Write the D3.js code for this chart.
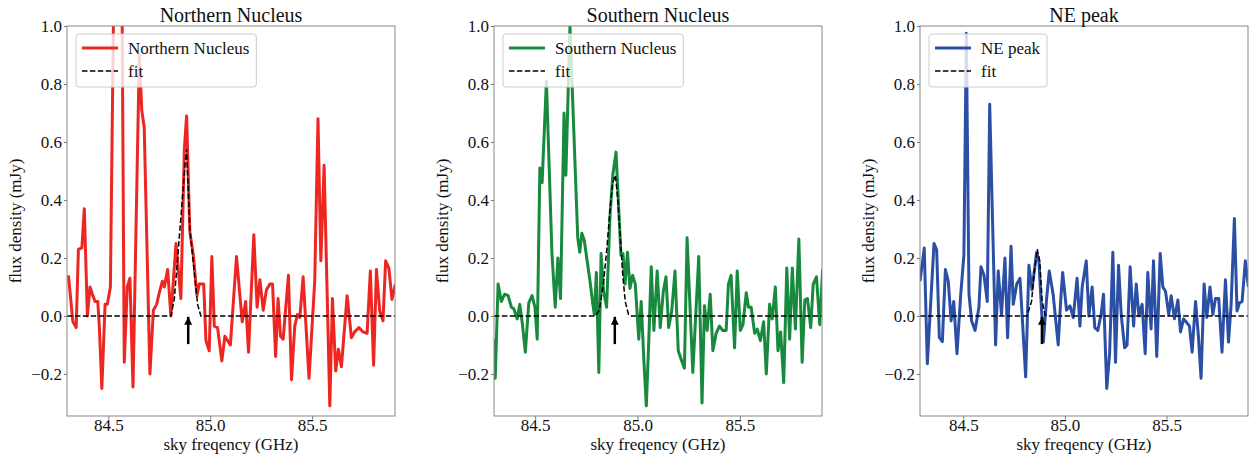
<!DOCTYPE html>
<html>
<head>
<meta charset="utf-8">
<script src="https://cdn.jsdelivr.net/npm/d3@7"></script>
<style>
body { margin: 0; background: #fff; }
svg text { font-family: "Liberation Serif", "DejaVu Serif", serif; fill: #111; }
</style>
</head>
<body>
<div id="chart"></div>
<script>
// spectra (GHz, mJy)
var freqN = [84.304, 84.326, 84.342, 84.353, 84.370, 84.382, 84.397, 84.410, 84.424, 84.435, 84.448, 84.456, 84.468, 84.484, 84.495, 84.510, 84.527, 84.545, 84.565, 84.578, 84.593, 84.606, 84.621, 84.652, 84.664, 84.676, 84.704, 84.721, 84.737, 84.750, 84.765, 84.775, 84.791, 84.807, 84.832, 84.856, 84.873, 84.884, 84.900, 84.917, 84.935, 84.946, 84.968, 84.979, 84.995, 85.008, 85.020, 85.036, 85.057, 85.072, 85.099, 85.129, 85.157, 85.174, 85.188, 85.214, 85.230, 85.244, 85.260, 85.276, 85.293, 85.306, 85.321, 85.333, 85.345, 85.358, 85.384, 85.399, 85.415, 85.428, 85.440, 85.456, 85.485, 85.513, 85.529, 85.543, 85.559, 85.587, 85.600, 85.616, 85.629, 85.644, 85.672, 85.693, 85.709, 85.730, 85.750, 85.770, 85.786, 85.802, 85.816, 85.832, 85.848, 85.861, 85.877, 85.892, 85.909];
var fluxN = [0.14, -0.02, -0.04, 0.23, 0.235, 0.37, 0.00, 0.10, 0.07, 0.05, 0.05, -0.04, -0.25, 0.04, 0.04, 0.10, 1.15, 1.45, 1.35, -0.16, 0.10, 0.13, -0.245, 0.90, 0.71, 0.65, -0.20, 0.02, 0.04, 0.08, 0.12, 0.10, 0.16, 0.00, 0.25, 0.06, 0.575, 0.69, 0.29, 0.21, 0.07, 0.11, 0.11, -0.085, -0.12, 0.205, -0.035, -0.04, -0.155, -0.07, -0.10, 0.205, -0.02, 0.05, -0.125, 0.28, 0.03, 0.125, 0.02, 0.09, 0.11, 0.11, -0.14, 0.06, -0.07, -0.08, 0.14, -0.22, -0.035, 0.005, -0.005, 0.135, -0.215, 0.12, 0.68, 0.19, 0.52, -0.31, 0.06, -0.19, -0.115, -0.175, 0.07, -0.075, -0.055, -0.04, -0.055, -0.06, 0.155, -0.17, 0.16, 0.017, -0.017, 0.19, 0.165, 0.057, 0.11];

var freqS = [84.297, 84.305, 84.319, 84.335, 84.351, 84.368, 84.384, 84.396, 84.412, 84.425, 84.438, 84.452, 84.469, 84.485, 84.499, 84.510, 84.523, 84.534, 84.555, 84.582, 84.598, 84.611, 84.624, 84.641, 84.650, 84.670, 84.708, 84.718, 84.728, 84.740, 84.752, 84.768, 84.782, 84.789, 84.799, 84.811, 84.822, 84.834, 84.849, 84.866, 84.879, 84.895, 84.919, 84.929, 84.939, 84.951, 84.963, 84.976, 84.989, 85.006, 85.018, 85.031, 85.043, 85.055, 85.067, 85.080, 85.096, 85.111, 85.126, 85.139, 85.152, 85.167, 85.183, 85.199, 85.216, 85.229, 85.242, 85.270, 85.299, 85.315, 85.327, 85.340, 85.355, 85.368, 85.384, 85.400, 85.417, 85.433, 85.444, 85.457, 85.474, 85.487, 85.502, 85.515, 85.531, 85.542, 85.555, 85.572, 85.585, 85.600, 85.616, 85.629, 85.645, 85.658, 85.673, 85.686, 85.699, 85.714, 85.729, 85.743, 85.756, 85.771, 85.788, 85.804, 85.817, 85.830, 85.846, 85.858, 85.874, 85.890, 85.904];
var fluxS = [-0.08, -0.215, 0.11, 0.05, 0.075, 0.07, 0.03, 0.025, -0.01, 0.04, -0.03, -0.125, 0.045, 0.07, 0.03, -0.08, 0.51, 0.46, 0.81, 0.216, 0.03, 0.20, 0.06, 0.70, 0.485, 1.00, 0.27, 0.22, 0.285, 0.26, 0.20, 0.12, 0.04, 0.005, 0.15, -0.195, 0.215, 0.085, 0.03, 0.35, 0.485, 0.565, 0.21, 0.215, 0.11, 0.22, 0.095, 0.14, 0.11, -0.08, 0.05, -0.154, -0.31, -0.085, 0.17, -0.05, 0.155, -0.04, 0.085, 0.135, -0.04, 0.017, 0.155, -0.12, -0.155, -0.18, 0.27, -0.195, 0.205, -0.30, 0.035, -0.05, 0.075, -0.12, -0.06, -0.035, -0.05, -0.05, 0.11, 0.14, -0.11, 0.155, -0.05, -0.03, 0.08, 0.03, 0.03, -0.06, -0.045, -0.085, -0.02, -0.20, 0.04, -0.01, 0.10, -0.12, -0.055, -0.23, 0.165, -0.08, 0.165, -0.045, 0.265, -0.16, 0.055, 0.06, -0.04, 0.11, 0.135, -0.03, 0.16];

var freqNE = [84.287, 84.308, 84.323, 84.356, 84.369, 84.382, 84.397, 84.412, 84.426, 84.440, 84.453, 84.469, 84.487, 84.503, 84.515, 84.528, 84.541, 84.558, 84.577, 84.587, 84.602, 84.618, 84.630, 84.659, 84.672, 84.688, 84.705, 84.718, 84.735, 84.746, 84.763, 84.779, 84.807, 84.823, 84.838, 84.861, 84.872, 84.884, 84.894, 84.910, 84.923, 84.942, 84.967, 84.979, 84.989, 85.008, 85.025, 85.041, 85.060, 85.074, 85.085, 85.105, 85.118, 85.134, 85.147, 85.162, 85.178, 85.190, 85.206, 85.220, 85.236, 85.249, 85.264, 85.277, 85.294, 85.306, 85.321, 85.338, 85.351, 85.364, 85.380, 85.395, 85.408, 85.424, 85.436, 85.452, 85.469, 85.482, 85.495, 85.511, 85.523, 85.539, 85.556, 85.569, 85.584, 85.596, 85.613, 85.626, 85.643, 85.657, 85.670, 85.685, 85.698, 85.714, 85.728, 85.741, 85.757, 85.773, 85.790, 85.805, 85.818, 85.834, 85.847, 85.859, 85.872, 85.888, 85.903];
var fluxNE = [0.12, 0.234, -0.165, 0.25, 0.228, -0.074, -0.088, 0.16, 0.12, -0.017, 0.05, -0.13, 0.07, 0.21, 0.975, 0.075, -0.017, -0.05, 0.03, 0.17, 0.14, 0.05, 0.73, -0.10, 0.155, 0.005, 0.20, -0.075, 0.24, 0.04, 0.11, 0.13, -0.21, 0.175, 0.09, 0.22, 0.19, 0.035, -0.09, 0.06, 0.155, 0.075, -0.10, 0.05, 0.15, 0.02, 0.035, -0.006, 0.13, -0.035, 0.10, 0.19, 0.0, 0.10, -0.04, -0.05, 0.005, 0.075, -0.25, -0.13, 0.22, -0.16, 0.175, 0.005, -0.11, -0.10, 0.17, -0.035, 0.11, 0.0, 0.04, -0.13, 0.15, -0.045, 0.19, -0.14, 0.215, 0.10, 0.085, 0.005, 0.07, -0.01, 0.055, -0.055, -0.01, -0.02, -0.035, -0.125, 0.05, -0.07, -0.215, 0.11, -0.005, 0.10, 0.005, 0.06, 0.06, -0.125, 0.125, -0.09, 0.04, 0.336, 0.017, 0.045, 0.05, 0.19, 0.10];

// gaussian fits, as drawn
var fitFreqN = [84.297, 84.807, 84.824, 84.848, 84.865, 84.877, 84.884, 84.900, 84.922, 84.938, 84.954, 85.907];
var fitFluxN = [0, 0, 0.06, 0.27, 0.42, 0.53, 0.575, 0.30, 0.15, 0.04, 0, 0];
var fitFreqS = [84.299, 84.793, 84.814, 84.833, 84.850, 84.866, 84.879, 84.892, 84.902, 84.915, 84.928, 84.940, 84.956, 84.966, 85.901];
var fitFluxS = [0, 0, 0.02, 0.11, 0.23, 0.37, 0.46, 0.485, 0.415, 0.28, 0.14, 0.05, 0.005, 0, 0];
var fitFreqNE = [84.287, 84.813, 84.836, 84.849, 84.864, 84.876, 84.888, 84.902, 84.912, 85.901];
var fitFluxNE = [0, 0, 0.05, 0.15, 0.23, 0.19, 0.05, 0.005, 0, 0];

var titles = ["Northern Nucleus", "Southern Nucleus", "NE peak"];
var colors = ["#ee2622", "#178a3e", "#2c4fa6"];
var xTicks = [84.5, 85.0, 85.5];
var yTicks = [-0.2, 0, 0.2, 0.4, 0.6, 0.8, 1.0];
var xLimits = [[84.297, 85.907], [84.299, 85.901], [84.287, 85.901]];
var yLimits = [-0.345, 1.0];
var arrowFreq = [84.892, 84.889, 84.887];

(function() {
  var series = [
    { f: freqN, v: fluxN, ff: fitFreqN, fv: fitFluxN },
    { f: freqS, v: fluxS, ff: fitFreqS, fv: fitFluxS },
    { f: freqNE, v: fluxNE, ff: fitFreqNE, fv: fitFluxNE }
  ];

  var width = 1251, height = 458;
  var lefts = [67, 494, 920];
  var axTop = 26, axBottom = 416, pw = 328;

  var svg = d3.select("#chart").append("svg")
    .attr("width", width)
    .attr("height", height);

  var defs = svg.append("defs");
  defs.append("marker")
    .attr("id", "head")
    .attr("viewBox", "0 0 10 10")
    .attr("refX", 10).attr("refY", 5)
    .attr("markerWidth", 3.2).attr("markerHeight", 3.2)
    .attr("markerUnits", "strokeWidth")
    .attr("orient", "auto")
    .append("path").attr("d", "M0,0L10,5L0,10z").attr("fill", "#000");

  function drawPanel(k) {
    var s = series[k];
    var ph = axBottom - axTop;
    var x = d3.scaleLinear().domain(xLimits[k]).range([0, pw]);
    var y = d3.scaleLinear().domain(yLimits).range([ph, 0]);

    var g = svg.append("g").attr("transform", "translate(" + lefts[k] + "," + axTop + ")");

    defs.append("clipPath").attr("id", "clip" + k)
      .append("rect").attr("width", pw).attr("height", ph);

    // axes
    var xa = g.append("g").attr("transform", "translate(0," + ph + ")")
      .call(d3.axisBottom(x).tickValues(xTicks).tickSize(3.5).tickFormat(d3.format(".1f")));
    xa.selectAll("text").attr("y", 15).attr("dy", 0).style("font-size", "17px");
    var ya = g.append("g")
      .call(d3.axisLeft(y).tickValues(yTicks).tickSize(3).tickPadding(2).tickFormat(d3.format(".1f")));
    ya.selectAll("text").style("font-size", "17px");
    g.selectAll(".domain").remove();
    g.selectAll(".tick line").attr("stroke", "#777");
    g.selectAll(".tick text").attr("fill", "#111");

    var plot = g.append("g").attr("clip-path", "url(#clip" + k + ")");

    var line = d3.line()
      .x(function(d) { return x(d[0]); })
      .y(function(d) { return y(d[1]); });

    plot.append("path")
      .datum(d3.zip(s.f, s.v))
      .attr("d", line)
      .attr("fill", "none")
      .attr("stroke", colors[k])
      .attr("stroke-width", 3)
      .attr("stroke-linejoin", "round");

    plot.append("path")
      .datum(d3.zip(s.ff, s.fv))
      .attr("d", line)
      .attr("fill", "none")
      .attr("stroke", "#000")
      .attr("stroke-width", 1.5)
      .attr("stroke-dasharray", "5.5,2.4");

    // arrow marking the line
    g.append("line")
      .attr("x1", x(arrowFreq[k])).attr("x2", x(arrowFreq[k]))
      .attr("y1", y(-0.097)).attr("y2", y(-0.003))
      .attr("stroke", "#000")
      .attr("stroke-width", 2.5)
      .attr("marker-end", "url(#head)");

    g.append("rect")
      .attr("width", pw).attr("height", ph)
      .attr("fill", "none")
      .attr("stroke", "#888")
      .attr("stroke-width", 1);

    // legend
    var lg = g.append("g").attr("transform", "translate(9,8)");
    var box = lg.append("rect")
      .attr("height", 53)
      .attr("rx", 3)
      .attr("fill", "#fff")
      .attr("fill-opacity", 0.8)
      .attr("stroke", "#ccc")
      .attr("stroke-width", 1);
    lg.append("line").attr("x1", 6).attr("x2", 42).attr("y1", 14).attr("y2", 14)
      .attr("stroke", colors[k]).attr("stroke-width", 3);
    lg.append("line").attr("x1", 6).attr("x2", 42).attr("y1", 37).attr("y2", 37)
      .attr("stroke", "#000").attr("stroke-width", 1.5).attr("stroke-dasharray", "5.5,2.4");
    var t1 = lg.append("text").attr("x", 52).attr("y", 20).style("font-size", "17px").text(titles[k]);
    lg.append("text").attr("x", 52).attr("y", 43).style("font-size", "17px").text("fit");
    box.attr("width", 52 + t1.node().getComputedTextLength() + 7);

    // labels
    g.append("text")
      .attr("x", pw / 2).attr("y", -4)
      .attr("text-anchor", "middle")
      .style("font-size", "20px")
      .text(titles[k]);

    g.append("text")
      .attr("x", pw / 2).attr("y", 424)
      .attr("text-anchor", "middle")
      .style("font-size", "17px")
      .text("sky freqency (GHz)");

    g.append("text")
      .attr("transform", "translate(-46," + (ph / 2) + ") rotate(-90)")
      .attr("text-anchor", "middle")
      .style("font-size", "17px")
      .text("flux density (mJy)");
  }

  for (var k = 0; k < 3; k++) drawPanel(k);
})();
</script>
</body>
</html>
